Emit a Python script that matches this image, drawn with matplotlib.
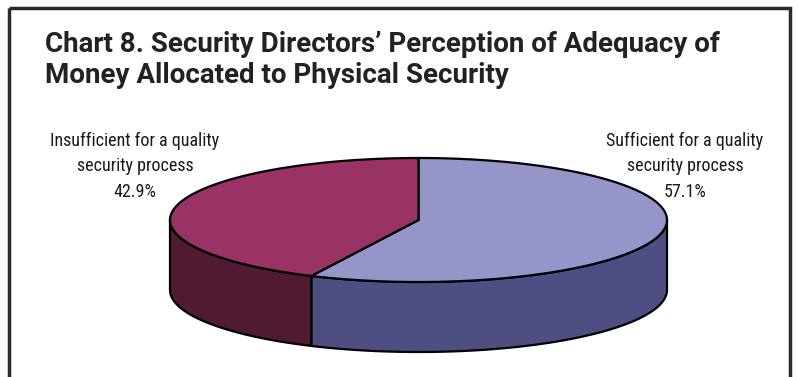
import numpy as np
import matplotlib
matplotlib.use("Agg")
import matplotlib.pyplot as plt
from matplotlib import font_manager as fm
from matplotlib.patches import Polygon, Rectangle

# ---- data ----
categories = ["Sufficient for a quality\nsecurity process",
              "Insufficient for a quality\nsecurity process"]
values = [57.1, 42.9]
top_colors = ["#9595C9", "#993366"]
side_colors = ["#4E4E82", "#501A33"]
title_lines = ["Chart 8. Security Directors\u2019 Perception of Adequacy of",
               "Money Allocated to Physical Security"]

names = {f.name for f in fm.fontManager.ttflist}
def pick(*cands):
    for c in cands:
        if c in names:
            return c
    return "DejaVu Sans"
title_font = pick("Roboto", "Open Sans", "Liberation Sans")
label_font = pick("Liberation Sans Narrow", "Roboto Condensed", "Liberation Sans")

W, H = 798, 377
fig = plt.figure(figsize=(W / 100, H / 100), dpi=100)
ax = fig.add_axes([0, 0, 1, 1])
ax.set_xlim(0, W)
ax.set_ylim(H, 0)
ax.axis("off")

# outer frame
ax.add_patch(Rectangle((9, 8), 781, 400, fill=False, edgecolor="#2a2a2a", lw=2.5, zorder=1))

# title
ax.text(45, 52, title_lines[0], fontsize=20, fontweight="bold", family=title_font,
        color="#222222", ha="left", va="baseline")
ax.text(45, 83, title_lines[1], fontsize=20, fontweight="bold", family=title_font,
        color="#222222", ha="left", va="baseline")

# 3D pie geometry
cx, cy, rx, ry, depth = 418.5, 220, 248.5, 62, 70

def pt(theta_deg, dy=0.0):
    t = np.radians(theta_deg)
    return cx + rx * np.sin(t), cy - ry * np.cos(t) + dy

fracs = np.array(values) / np.sum(values)
bounds = np.concatenate([[0], np.cumsum(fracs) * 360])
edge = dict(edgecolor="black", lw=1.6, joinstyle="round")

# sides (visible lower half: 90..270 deg)
for i in range(len(values)):
    a0, a1 = max(bounds[i], 90), min(bounds[i + 1], 270)
    if a1 <= a0:
        continue
    th = np.linspace(a0, a1, 120)
    top = np.array([pt(t) for t in th])
    bot = np.array([pt(t, depth) for t in th[::-1]])
    ax.add_patch(Polygon(np.vstack([top, bot]), closed=True,
                         facecolor=side_colors[i], zorder=2, **edge))

# top faces
for i in range(len(values)):
    th = np.linspace(bounds[i], bounds[i + 1], 200)
    arc = np.array([pt(t) for t in th])
    poly = np.vstack([[cx, cy], arc])
    ax.add_patch(Polygon(poly, closed=True, facecolor=top_colors[i], zorder=3, **edge))

# labels
lab_kw = dict(fontsize=13, family=label_font, color="#1a1a1a", ha="center",
              va="baseline", linespacing=1.5)
ax.text(685, 171, categories[0], **lab_kw)
ax.text(685, 197, f"{values[0]:.1f}%", **lab_kw)
ax.text(135, 171, categories[1], **lab_kw)
ax.text(135, 197, f"{values[1]:.1f}%", **lab_kw)

fig.savefig("out.png", dpi=100)
